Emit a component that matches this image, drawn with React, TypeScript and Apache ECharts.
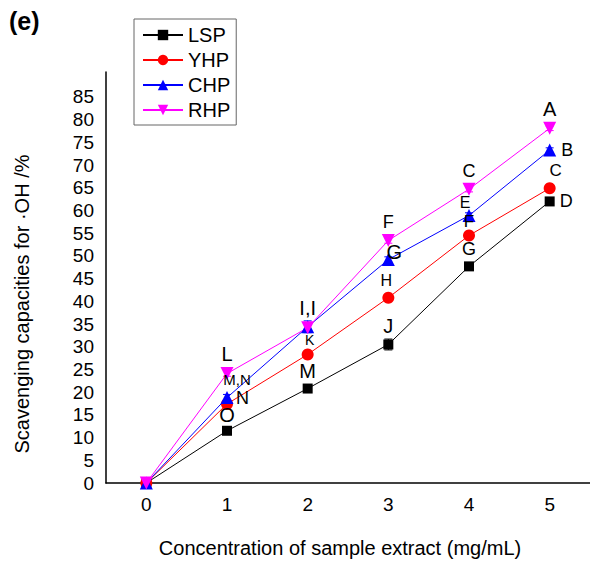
import React, { useEffect, useRef } from "react";
import * as echarts from "echarts";

const concentrations = ["0", "1", "2", "3", "4", "5"];
const seriesNames = ["LSP", "YHP", "CHP", "RHP"];
const lsp = [0, 11.5, 20.8, 30.5, 47.7, 62.0];
const yhp = [0, 17.4, 28.3, 40.8, 54.5, 64.9];
const chp = [0, 18.8, 34.4, 49.2, 58.9, 73.3];
const rhp = [0, 24.1, 34.2, 53.4, 64.7, 78.1];
const lspErr = [0.3, 0.6, 0.6, 1.2, 0.6, 0.5];
const yhpErr = [0.3, 0.8, 0.5, 0.5, 0.5, 0.5];
const chpErr = [0.5, 0.7, 1.3, 0.6, 0.6, 0.5];
const rhpErr = [0.3, 0.6, 0.6, 0.6, 0.6, 0.5];
const lspLetters = ["", "O", "M", "J", "G", "D"];
const yhpLetters = ["", "N", "K", "H", "F", "C"];
const chpLetters = ["", "M,N", "", "G", "E", "B"];
const rhpLetters = ["", "L", "I,I", "F", "C", "A"];
const yTickMax = 85;

const FONT = "Liberation Sans, Arial, sans-serif";

// label styling (position / offset / size) per series and point
const labelStyle: Record<string, any[]> = {
  LSP: [null, { p: "top", o: [0, 2], s: 20 }, { p: "top", o: [0, 0], s: 20 }, { p: "top", o: [0, 0], s: 20 }, { p: "top", o: [0, 0], s: 18 }, { p: "right", o: [2, 0], s: 18 }],
  YHP: [null, { p: "right", o: [0, -6], s: 18 }, { p: "top", o: [2, 2], s: 14 }, { p: "top", o: [-2, 0], s: 16 }, { p: "top", o: [0, 4], s: 17 }, { p: "top", o: [6, 0], s: 17 }],
  CHP: [null, { p: "top", o: [10, -1], s: 15 }, null, { p: "top", o: [6, 12], s: 20 }, { p: "top", o: [-4, 4], s: 16 }, { p: "right", o: [2, 0], s: 18 }],
  RHP: [null, { p: "top", o: [0, 0], s: 20 }, { p: "top", o: [0, 0], s: 20 }, { p: "top", o: [0, 0], s: 18 }, { p: "top", o: [0, 0], s: 18 }, { p: "top", o: [0, 0], s: 20 }],
};

export default function App() {
  const ref = useRef<HTMLDivElement>(null);
  useEffect(() => {
    if (!ref.current) return;
    const chart = echarts.init(ref.current, undefined, { renderer: "svg" });
    const defs = [
      { name: "LSP", data: lsp, err: lspErr, letters: lspLetters, color: "#000000", symbol: "rect", size: 10, rotate: 0 },
      { name: "YHP", data: yhp, err: yhpErr, letters: yhpLetters, color: "#ff0000", symbol: "circle", size: 12, rotate: 0 },
      { name: "CHP", data: chp, err: chpErr, letters: chpLetters, color: "#0000ff", symbol: "triangle", size: 13, rotate: 0 },
      { name: "RHP", data: rhp, err: rhpErr, letters: rhpLetters, color: "#ff00ff", symbol: "triangle", size: 13, rotate: 180 },
    ];
    const lineSeries = defs.map((d) => ({
      name: d.name,
      type: "line",
      symbol: d.symbol,
      symbolSize: d.size,
      symbolRotate: d.rotate,
      itemStyle: { color: d.color },
      lineStyle: { color: d.color, width: 1 },
      z: 3,
      data: d.data.map((v, i) => {
        const st = labelStyle[d.name][i];
        const letter = d.letters[i];
        return {
          value: v,
          label: letter && st
            ? {
                show: true,
                formatter: letter,
                position: st.p,
                offset: st.o,
                distance: 3,
                fontSize: st.s,
                color: "#000",
                fontFamily: FONT,
              }
            : { show: false },
        };
      }),
    }));
    const errSeries = defs.map((d) => ({
      name: d.name + "-err",
      type: "custom",
      z: 2,
      silent: true,
      data: d.data.map((v, i) => [i, v - d.err[i], v + d.err[i]]),
      renderItem: (params: any, api: any) => {
        const lo = api.coord([api.value(0), api.value(1)]);
        const hi = api.coord([api.value(0), api.value(2)]);
        const w = 4;
        const style = { stroke: d.color, lineWidth: 1 };
        return {
          type: "group",
          children: [
            { type: "line", shape: { x1: lo[0], y1: lo[1], x2: hi[0], y2: hi[1] }, style },
            { type: "line", shape: { x1: lo[0] - w, y1: lo[1], x2: lo[0] + w, y2: lo[1] }, style },
            { type: "line", shape: { x1: hi[0] - w, y1: hi[1], x2: hi[0] + w, y2: hi[1] }, style },
          ],
        };
      },
    }));
    chart.setOption({
      animation: false,
      backgroundColor: "#ffffff",
      textStyle: { fontFamily: FONT },
      grid: { left: 106, top: 72, right: -1, bottom: 80, containLabel: false },
      legend: {
        data: seriesNames,
        orient: "vertical",
        left: 134,
        top: 19,
        padding: [6, 6, 5, 8],
        itemGap: 5,
        itemWidth: 40,
        itemHeight: 13,
        borderColor: "#666",
        borderWidth: 1,
        textStyle: { fontSize: 20, color: "#000", lineHeight: 17 },
      },
      xAxis: {
        type: "category",
        data: concentrations,
        boundaryGap: true,
        axisLine: { lineStyle: { color: "#000", width: 1.5 } },
        axisTick: { show: false },
        axisLabel: { fontSize: 19, color: "#000", margin: 12 },
        splitLine: { show: false },
      },
      yAxis: {
        type: "value",
        min: 0,
        max: 90.5,
        interval: 5,
        axisLine: { show: true, lineStyle: { color: "#000", width: 1.5 } },
        axisTick: { show: false },
        splitLine: { show: false },
        axisLabel: {
          fontSize: 19,
          color: "#000",
          margin: 12,
          formatter: (v: number) => (v > yTickMax ? "" : String(v)),
        },
      },
      graphic: [
        { type: "text", left: 9, top: 8, style: { text: "(e)", fontSize: 25, fontWeight: "bold", fill: "#000", fontFamily: FONT } },
        {
          type: "text",
          x: 22,
          y: 304,
          rotation: Math.PI / 2,
          style: { text: "Scavenging capacities for ·OH /%", fontSize: 20, fill: "#000", align: "center", verticalAlign: "middle", fontFamily: FONT },
        },
        {
          type: "text",
          x: 340,
          y: 548,
          style: { text: "Concentration of sample extract (mg/mL)", fontSize: 20, fill: "#000", align: "center", verticalAlign: "middle", fontFamily: FONT },
        },
      ],
      series: [...errSeries, ...lineSeries],
    });
    return () => chart.dispose();
  }, []);
  return <div ref={ref} style={{ width: 590, height: 563, position: "absolute", left: 0, top: 0 }} />;
}
